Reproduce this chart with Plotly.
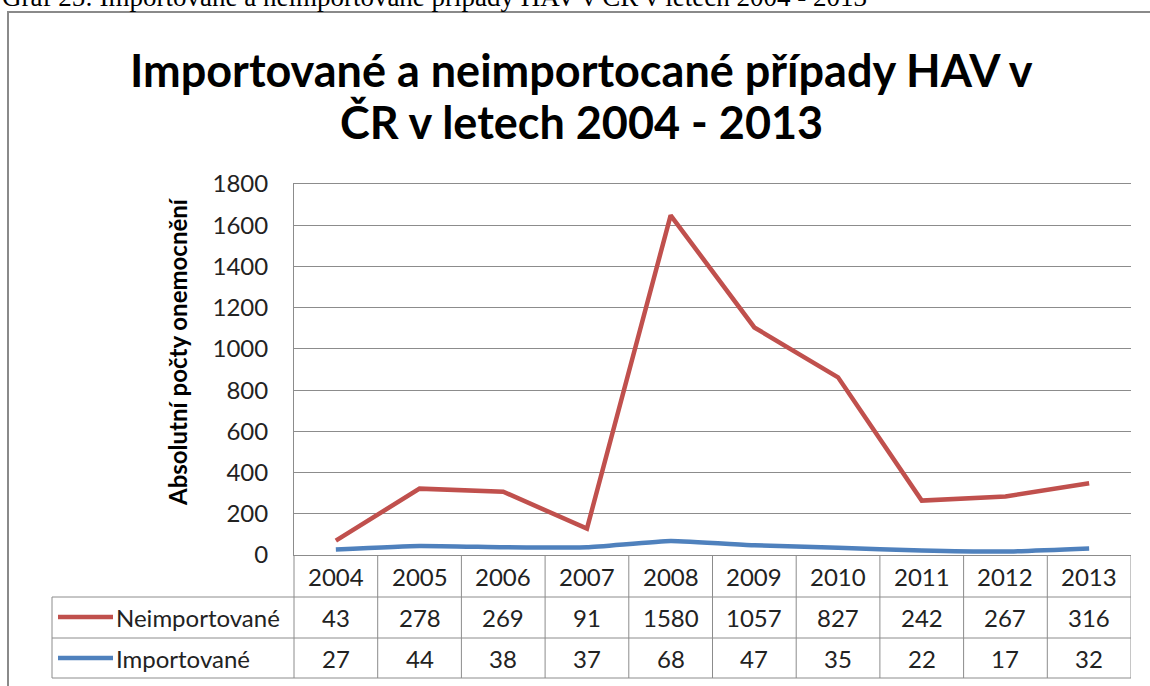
import plotly.graph_objects as go

years = ['2004', '2005', '2006', '2007', '2008', '2009', '2010', '2011', '2012', '2013']
neimportovane = [43, 278, 269, 91, 1580, 1057, 827, 242, 267, 316]
importovane = [27, 44, 38, 37, 68, 47, 35, 22, 17, 32]
series_names = ['Neimportované', 'Importované']
y_ticks = [0, 200, 400, 600, 800, 1000, 1200, 1400, 1600, 1800]
title_lines = ['Importované a neimportocané případy HAV v', 'ČR v letech 2004 - 2013']
y_title = 'Absolutní počty onemocnění'
caption = 'Graf 25: Importované a neimportované případy HAV v ČR v letech 2004 - 2013'

RED = '#C0504D'
BLUE = '#4F81BD'
GRID = '#8C8C8C'
FONT = 'Lato'
TXT = '#222222'

W, H = 1150, 686
L, R, T, B = 294, 1131, 184, 555
PW, PH = R - L, B - T


def px(x):
    return (x - L) / PW


def py(y):
    return (B - y) / PH


# stacked line (Excel stacked line chart)
stacked = [a + b for a, b in zip(neimportovane, importovane)]

fig = go.Figure()
fig.add_trace(go.Scatter(x=years, y=importovane, mode='lines', name=series_names[1],
                         line=dict(color=BLUE, width=4.5, shape='spline', smoothing=0.4)))
fig.add_trace(go.Scatter(x=years, y=stacked, mode='lines', name=series_names[0],
                         line=dict(color=RED, width=4.5)))

shapes = []
annotations = []


def ann(**kw):
    d = dict(showarrow=False, xanchor='center', yanchor='middle')
    d.update(kw)
    annotations.append(d)


# outer frame
shapes.append(dict(type='rect', xref='paper', yref='paper', x0=px(8), x1=px(1170),
                   y0=py(700), y1=py(12), line=dict(color='#8a8a8a', width=2)))

# table horizontal lines
for yy in [597, 638, 678]:
    shapes.append(dict(type='line', xref='paper', yref='paper', x0=px(52), x1=px(R),
                       y0=py(yy), y1=py(yy), line=dict(color=GRID, width=1)))
# left vertical lines
shapes.append(dict(type='line', xref='paper', yref='paper', x0=px(52), x1=px(52),
                   y0=py(597), y1=py(678), line=dict(color=GRID, width=1)))
shapes.append(dict(type='line', xref='paper', yref='paper', x0=0, x1=0,
                   y0=py(678), y1=0, line=dict(color=GRID, width=1)))
# column dividers
for i in range(1, len(years) + 1):
    shapes.append(dict(type='line', xref='x', yref='paper', x0=i - 0.5, x1=i - 0.5,
                       y0=py(678), y1=0, line=dict(color=GRID, width=1)))

# table texts
tfont = dict(family=FONT, size=24, color=TXT)
for i, yr in enumerate(years):
    ann(x=i, y=py(576), xref='x', yref='paper', text=yr, font=tfont)
    ann(x=i, y=py(617.5), xref='x', yref='paper', text=str(neimportovane[i]), font=tfont)
    ann(x=i, y=py(658), xref='x', yref='paper', text=str(importovane[i]), font=tfont)

# legend keys in table
for name, col, yy in [(series_names[0], RED, 617), (series_names[1], BLUE, 658)]:
    shapes.append(dict(type='line', xref='paper', yref='paper', x0=px(58), x1=px(113),
                       y0=py(yy), y1=py(yy), line=dict(color=col, width=4.5)))
    ann(x=px(114), y=py(yy + 0.5), xref='paper', yref='paper', text=name, xanchor='left',
        font=tfont)

# y axis title
ann(x=px(177), y=py(352), xref='paper', yref='paper', text='<b>' + y_title + '</b>',
    textangle=-90, font=dict(family=FONT, size=24, color='#000000'))

# chart title (two lines)
for txt, yy in zip(title_lines, [70, 122]):
    ann(x=px(W / 2 + 6), y=py(yy), xref='paper', yref='paper', text='<b>' + txt + '</b>',
        font=dict(family=FONT, size=45, color='#000000'))

# caption (clipped at the top of the page, as in the reference)
ann(x=px(0), y=py(-3), xref='paper', yref='paper', xanchor='left', text=caption,
    font=dict(family='Liberation Serif', size=27, color='#000000'))

fig.update_layout(
    width=W, height=H, autosize=False,
    margin=dict(l=L, r=W - R, t=T, b=H - B, pad=0),
    paper_bgcolor='white', plot_bgcolor='white',
    showlegend=False,
    xaxis=dict(type='category', range=[-0.5, len(years) - 0.5], showticklabels=False,
               showgrid=False, showline=True, mirror=True, linecolor=GRID, linewidth=1,
               ticks='', zeroline=False),
    yaxis=dict(range=[0, 1800], tickvals=y_ticks, showgrid=True, gridcolor=GRID, gridwidth=1,
               showline=True, linecolor=GRID, linewidth=1, ticks='', zeroline=False,
               ticklabelstandoff=20,
               tickfont=dict(family=FONT, size=24, color=TXT)),
    shapes=shapes,
    annotations=annotations,
)

fig.write_html('out.html', config={'displayModeBar': False},
               post_script="document.body.style.margin='0';")
